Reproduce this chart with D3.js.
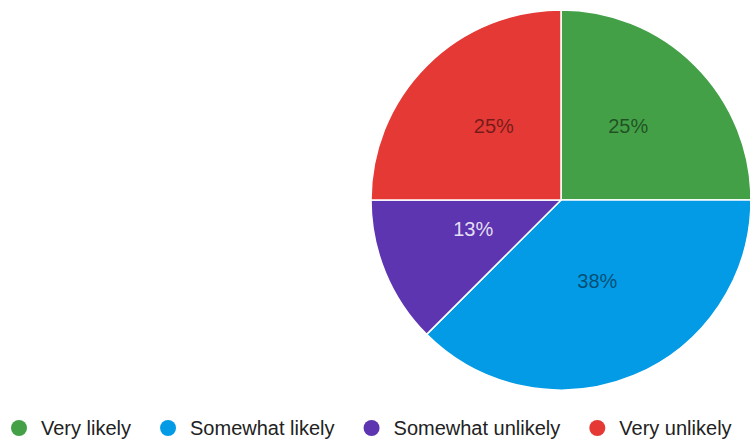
<!DOCTYPE html>
<html>
<head>
<meta charset="utf-8">
<script src="https://cdn.jsdelivr.net/npm/d3@7"></script>
<style>
  html, body { margin: 0; padding: 0; background: #fff; }
  svg { display: block; font-family: Arial, "Liberation Sans", sans-serif; }
</style>
</head>
<body>
<svg id="chart"></svg>
<script>
// data
const categories = ['Very likely', 'Somewhat likely', 'Somewhat unlikely', 'Very unlikely'];
const counts = [2, 3, 1, 2];
const colors = ['#43a047', '#039be5', '#5e35b1', '#e53935'];
// label colour per slice (dark text on light slices, light text on purple)
const labelFill = ['#000', '#000', '#fff', '#000'];
const labelOpacity = [0.5, 0.5, 0.85, 0.5];

const width = 750, height = 443;
const cx = 561, cy = 200, radius = 190;

const svg = d3.select('#chart')
    .attr('width', width)
    .attr('height', height);

const total = d3.sum(counts);
const data = categories.map((c, i) => ({ name: c, value: counts[i], i }));

// pie, starting at 12 o'clock going clockwise, no sorting
const pie = d3.pie().value(d => d.value).sort(null);
const arcs = pie(data);

const arc = d3.arc().innerRadius(0).outerRadius(radius);
const labelArc = d3.arc().innerRadius(95).outerRadius(95);

const g = svg.append('g')
    .attr('transform', `translate(${cx},${cy})`);

g.selectAll('path')
    .data(arcs)
    .join('path')
    .attr('d', arc)
    .attr('fill', d => colors[d.data.i])
    .attr('stroke', '#fff')
    .attr('stroke-width', 1.5);

g.selectAll('text.pct')
    .data(arcs)
    .join('text')
    .attr('class', 'pct')
    .attr('x', d => labelArc.centroid(d)[0])
    .attr('y', d => labelArc.centroid(d)[1])
    .attr('text-anchor', 'middle')
    .attr('font-size', 20)
    .attr('fill', d => labelFill[d.data.i])
    .attr('fill-opacity', d => labelOpacity[d.data.i])
    .text(d => Math.round(d.data.value / total * 100) + '%');

// legend, flowed left to right
const legend = svg.append('g')
    .attr('transform', 'translate(0,428)');

let lx = 11;
categories.forEach((c, i) => {
    const item = legend.append('g');
    item.append('circle')
        .attr('cx', lx + 8)
        .attr('cy', 0)
        .attr('r', 8)
        .attr('fill', colors[i]);
    const t = item.append('text')
        .attr('x', lx + 30)
        .attr('y', 7)
        .attr('font-size', 20)
        .attr('fill', '#222')
        .text(c);
    lx += 30 + t.node().getComputedTextLength() + 29;
});
</script>
</body>
</html>
